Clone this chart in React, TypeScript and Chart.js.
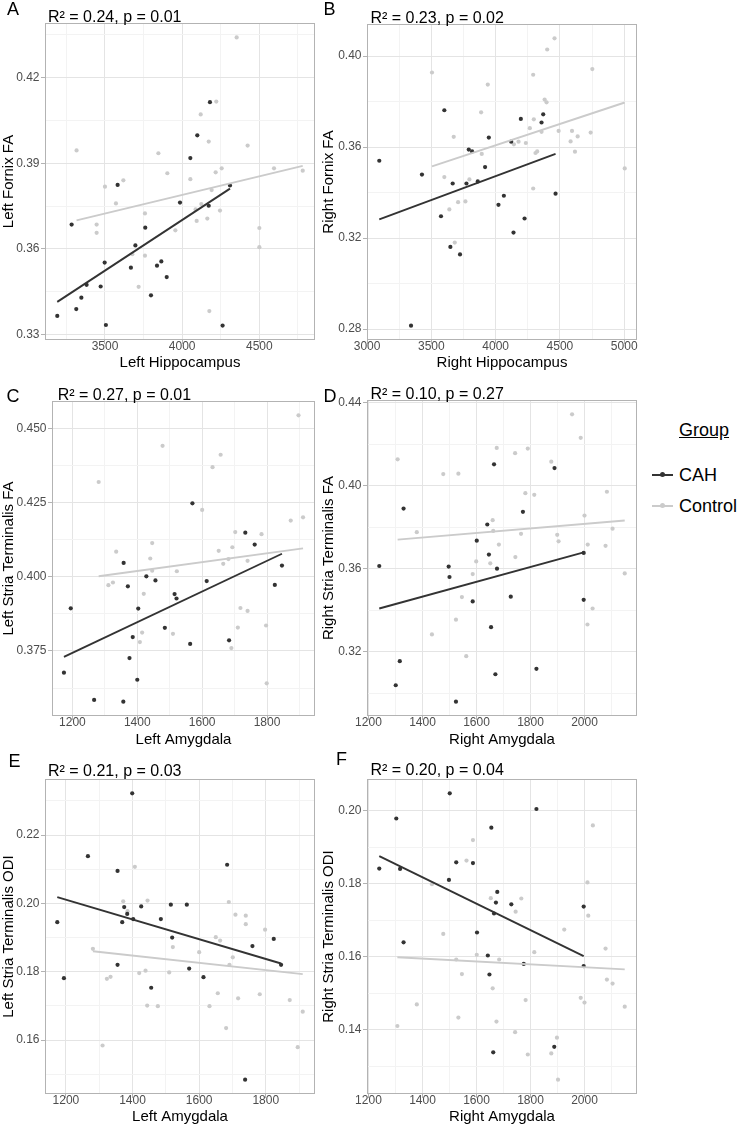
import React, { useEffect, useRef } from "react";
import { Chart, registerables } from "chart.js";
Chart.register(...registerables);

const FONT = '"Liberation Sans", Arial, Helvetica, sans-serif';
const CAH_COLOR = "#333333";
const CTRL_COLOR = "#cbcbcb";
const GRID_MAJOR = "#e4e4e4";
const GRID_MINOR = "#f3f3f3";
const BORDER = "#b3b3b3";
const TICK_TEXT = "#4d4d4d";

const groups = ["CAH", "Control"];

// ---------- Panel A: Left Hippocampus vs Left Fornix FA ----------
const aCahX = [3191, 3284, 3314, 3347, 3381, 3472, 3498, 3506, 3582, 3668, 3697, 3761, 3798, 3837, 3865, 3900, 3986, 4053, 4098, 4172, 4180, 4262, 4310];
const aCahY = [0.3365, 0.3685, 0.3389, 0.3429, 0.3474, 0.3468, 0.3552, 0.3333, 0.3824, 0.3534, 0.3612, 0.3674, 0.3437, 0.3541, 0.3556, 0.3501, 0.3762, 0.3918, 0.3998, 0.3751, 0.4114, 0.3331, 0.3822];
const aCtrlX = [3316, 3446, 3446, 3500, 3571, 3619, 3677, 3718, 3759, 3759, 3846, 3904, 3956, 4053, 4094, 4087, 4124, 4120, 4163, 4172, 4176, 4191, 4217, 4221, 4245, 4256, 4353, 4424, 4500, 4500, 4595, 4781];
const aCtrlY = [0.3945, 0.3685, 0.3656, 0.3818, 0.3759, 0.384, 0.3581, 0.3467, 0.3724, 0.3576, 0.3935, 0.3865, 0.3665, 0.3844, 0.3698, 0.3738, 0.3757, 0.4071, 0.3706, 0.3976, 0.3382, 0.3806, 0.3868, 0.4116, 0.3734, 0.3882, 0.4341, 0.3962, 0.3673, 0.3606, 0.3882, 0.3874];
const aFitCahX = [3191, 4310];
const aFitCahY = [0.3414, 0.3811];
const aFitCtrlX = [3316, 4781];
const aFitCtrlY = [0.37, 0.3891];
const aXMajor = [3500, 4000, 4500];
const aXMinor = [3250, 3750, 4250, 4750];
const aYMajor = [0.33, 0.36, 0.39, 0.42];
const aYMinor = [0.345, 0.375, 0.405, 0.435];

// ---------- Panel B: Right Hippocampus vs Right Fornix FA ----------
const bCahX = [3095, 3342, 3427, 3575, 3601, 3648, 3666, 3723, 3773, 3791, 3817, 3861, 3918, 3947, 4022, 4064, 4121, 4139, 4196, 4225, 4357, 4370, 4466];
const bCahY = [0.354, 0.2815, 0.3479, 0.3296, 0.3762, 0.3161, 0.344, 0.3128, 0.344, 0.3589, 0.3581, 0.3449, 0.3512, 0.3642, 0.3346, 0.3386, 0.3624, 0.3224, 0.3724, 0.3286, 0.3708, 0.3744, 0.3395];
const bCtrlX = [3505, 3601, 3640, 3674, 3682, 3708, 3765, 3796, 3887, 3892, 3939, 4142, 4178, 4235, 4266, 4292, 4297, 4292, 4310, 4323, 4357, 4381, 4396, 4401, 4458, 4490, 4583, 4594, 4617, 4638, 4739, 4752, 5004];
const bCtrlY = [0.3928, 0.3468, 0.3326, 0.3645, 0.318, 0.3358, 0.3361, 0.3458, 0.3753, 0.357, 0.3875, 0.3612, 0.3624, 0.3618, 0.3683, 0.3918, 0.3722, 0.3418, 0.3574, 0.3581, 0.3667, 0.3809, 0.3797, 0.4029, 0.4078, 0.3671, 0.3625, 0.3671, 0.358, 0.3647, 0.3664, 0.3943, 0.3506];
const bFitCahX = [3095, 4466];
const bFitCahY = [0.3282, 0.357];
const bFitCtrlX = [3505, 5004];
const bFitCtrlY = [0.3515, 0.3796];
const bXMajor = [3000, 3500, 4000, 4500, 5000];
const bXMinor = [3250, 3750, 4250, 4750];
const bYMajor = [0.28, 0.32, 0.36, 0.4];
const bYMinor = [0.3, 0.34, 0.38];

// ---------- Panel C: Left Amygdala vs Left Stria Terminalis FA ----------
const cCahX = [1174, 1195, 1267, 1357, 1358, 1371, 1376, 1386, 1400, 1403, 1428, 1456, 1485, 1515, 1521, 1563, 1570, 1614, 1683, 1733, 1762, 1824, 1846];
const cCahY = [0.3677, 0.3894, 0.3585, 0.3579, 0.4047, 0.3968, 0.3726, 0.3797, 0.3653, 0.3893, 0.4002, 0.3988, 0.3828, 0.3942, 0.3927, 0.3774, 0.4248, 0.3986, 0.3786, 0.4149, 0.4109, 0.3973, 0.4038];
const cCtrlX = [1281, 1311, 1325, 1335, 1408, 1415, 1420, 1440, 1446, 1446, 1478, 1510, 1522, 1600, 1632, 1651, 1657, 1665, 1681, 1690, 1693, 1702, 1710, 1718, 1740, 1740, 1783, 1797, 1799, 1873, 1897, 1911];
const cCtrlY = [0.432, 0.3972, 0.3981, 0.4085, 0.378, 0.3812, 0.3943, 0.4062, 0.4114, 0.4021, 0.4442, 0.3808, 0.4019, 0.4226, 0.437, 0.4088, 0.4412, 0.4044, 0.406, 0.376, 0.41, 0.4151, 0.3829, 0.3895, 0.3885, 0.4054, 0.4144, 0.3836, 0.3641, 0.419, 0.4545, 0.4201];
const cFitCahX = [1174, 1846];
const cFitCahY = [0.373, 0.4078];
const cFitCtrlX = [1281, 1911];
const cFitCtrlY = [0.4002, 0.4096];
const cXMajor = [1200, 1400, 1600, 1800];
const cXMinor = [1300, 1500, 1700, 1900];
const cYMajor = [0.375, 0.4, 0.425, 0.45];
const cYMinor = [0.3625, 0.3875, 0.4125, 0.4375];

// ---------- Panel D: Right Amygdala vs Right Stria Terminalis FA ----------
const dCahX = [1240, 1301, 1316, 1330, 1497, 1500, 1524, 1586, 1601, 1640, 1646, 1654, 1665, 1670, 1676, 1727, 1772, 1822, 1889, 1997, 1997];
const dCahY = [0.3614, 0.3039, 0.3155, 0.3891, 0.3611, 0.3561, 0.296, 0.3443, 0.3736, 0.3814, 0.3669, 0.3319, 0.4104, 0.3092, 0.3601, 0.3466, 0.3875, 0.3118, 0.4086, 0.3677, 0.3451];
const dCtrlX = [1308, 1379, 1435, 1477, 1524, 1533, 1546, 1562, 1586, 1599, 1651, 1660, 1662, 1675, 1683, 1743, 1744, 1765, 1781, 1790, 1814, 1877, 1899, 1904, 1954, 1986, 2000, 2012, 2011, 2030, 2078, 2083, 2104, 2149];
const dCtrlY = [0.4128, 0.3777, 0.3284, 0.4057, 0.3355, 0.4059, 0.3464, 0.3179, 0.3575, 0.3636, 0.3627, 0.3835, 0.3783, 0.4183, 0.3717, 0.4158, 0.3657, 0.3769, 0.3965, 0.418, 0.3957, 0.4117, 0.3764, 0.3733, 0.4345, 0.4232, 0.3857, 0.3717, 0.3332, 0.3409, 0.3711, 0.3972, 0.3794, 0.3578];
const dFitCahX = [1240, 1997];
const dFitCahY = [0.3409, 0.368];
const dFitCtrlX = [1308, 2149];
const dFitCtrlY = [0.3741, 0.3833];
const dXMajor = [1200, 1400, 1600, 1800, 2000];
const dXMinor = [1300, 1500, 1700, 1900, 2100];
const dYMajor = [0.32, 0.36, 0.4, 0.44];
const dYMinor = [0.3, 0.34, 0.38, 0.42];

// ---------- Panel E: Left Amygdala vs Left Stria Terminalis ODI ----------
const eCahX = [1174, 1194, 1266, 1355, 1355, 1369, 1375, 1384, 1399, 1402, 1426, 1456, 1485, 1515, 1519, 1563, 1570, 1613, 1684, 1738, 1760, 1824, 1846];
const eCahY = [0.1945, 0.1781, 0.2138, 0.2095, 0.182, 0.1945, 0.1989, 0.1969, 0.2322, 0.1954, 0.1991, 0.1753, 0.1954, 0.1996, 0.19, 0.1996, 0.1809, 0.1784, 0.2113, 0.1484, 0.1875, 0.1896, 0.182];
const eCtrlX = [1281, 1310, 1323, 1334, 1372, 1385, 1407, 1420, 1439, 1445, 1444, 1476, 1510, 1521, 1600, 1631, 1650, 1656, 1663, 1681, 1689, 1691, 1701, 1709, 1717, 1740, 1740, 1782, 1798, 1872, 1896, 1911];
const eCtrlY = [0.1867, 0.1584, 0.1779, 0.1785, 0.2006, 0.1977, 0.2107, 0.1796, 0.1803, 0.2008, 0.1701, 0.1699, 0.1798, 0.1872, 0.1857, 0.1699, 0.1901, 0.1737, 0.1891, 0.1635, 0.2004, 0.182, 0.1842, 0.1967, 0.1722, 0.1964, 0.1939, 0.1734, 0.1923, 0.1717, 0.1579, 0.1683];
const eFitCahX = [1174, 1846];
const eFitCahY = [0.2018, 0.1824];
const eFitCtrlX = [1281, 1911];
const eFitCtrlY = [0.186, 0.1793];
const eXMajor = [1200, 1400, 1600, 1800];
const eXMinor = [1300, 1500, 1700, 1900];
const eYMajor = [0.16, 0.18, 0.2, 0.22];
const eYMinor = [0.15, 0.17, 0.19, 0.21, 0.23];

// ---------- Panel F: Right Amygdala vs Right Stria Terminalis ODI ----------
const fCahX = [1240, 1303, 1317, 1330, 1498, 1501, 1525, 1587, 1602, 1642, 1648, 1655, 1662, 1665, 1672, 1677, 1729, 1775, 1822, 1888, 1997, 1997];
const fCahY = [0.1841, 0.1978, 0.184, 0.1639, 0.181, 0.2047, 0.1858, 0.1856, 0.1666, 0.1603, 0.1551, 0.1953, 0.1338, 0.1718, 0.1748, 0.1777, 0.1743, 0.158, 0.2004, 0.1353, 0.1737, 0.1574];
const fCtrlX = [1307, 1379, 1435, 1477, 1525, 1533, 1546, 1563, 1587, 1601, 1653, 1660, 1674, 1684, 1743, 1745, 1766, 1782, 1790, 1814, 1877, 1898, 1902, 1925, 1986, 2000, 2011, 2014, 2031, 2078, 2083, 2104, 2149];
const fCtrlY = [0.141, 0.1469, 0.1798, 0.1662, 0.1592, 0.1433, 0.1552, 0.1863, 0.1919, 0.1605, 0.176, 0.1513, 0.1422, 0.1592, 0.1393, 0.1723, 0.1759, 0.1481, 0.1332, 0.1612, 0.1335, 0.1378, 0.1263, 0.1674, 0.1487, 0.1474, 0.1803, 0.1712, 0.1959, 0.1622, 0.1537, 0.1526, 0.1463];
const fFitCahX = [1240, 1997];
const fFitCahY = [0.1875, 0.1601];
const fFitCtrlX = [1307, 2149];
const fFitCtrlY = [0.1598, 0.1565];
const fXMajor = [1200, 1400, 1600, 1800, 2000];
const fXMinor = [1300, 1500, 1700, 1900, 2100];
const fYMajor = [0.14, 0.16, 0.18, 0.2];
const fYMinor = [0.13, 0.15, 0.17, 0.19];

type Panel = {
  letter: string;
  stat: string;
  xTitle: string;
  yTitle: string;
  cahX: number[]; cahY: number[]; ctrlX: number[]; ctrlY: number[];
  fitCahX: number[]; fitCahY: number[]; fitCtrlX: number[]; fitCtrlY: number[];
  xMajor: number[]; xMinor: number[]; yMajor: number[]; yMinor: number[];
  yDec: number;
  // layout (page pixels)
  cx: number; cy: number; cw: number; ch: number;
  l: number; t: number; r: number; b: number;
  letterX: number; letterY: number; statX: number; statY: number;
};

const COL_L = { cx: 0, cw: 320 };
const COL_R = { cx: 320, cw: 325 };

const panels: Panel[] = [
  {
    letter: "A", stat: "R\u00B2 = 0.24, p = 0.01", xTitle: "Left Hippocampus", yTitle: "Left Fornix FA",
    cahX: aCahX, cahY: aCahY, ctrlX: aCtrlX, ctrlY: aCtrlY,
    fitCahX: aFitCahX, fitCahY: aFitCahY, fitCtrlX: aFitCtrlX, fitCtrlY: aFitCtrlY,
    xMajor: aXMajor, xMinor: aXMinor, yMajor: aYMajor, yMinor: aYMinor, yDec: 2,
    ...COL_L, cy: 0, ch: 373, l: 45, t: 23, r: 315, b: 340,
    letterX: 7, letterY: 15, statX: 48, statY: 22,
  },
  {
    letter: "B", stat: "R\u00B2 = 0.23, p = 0.02", xTitle: "Right Hippocampus", yTitle: "Right Fornix FA",
    cahX: bCahX, cahY: bCahY, ctrlX: bCtrlX, ctrlY: bCtrlY,
    fitCahX: bFitCahX, fitCahY: bFitCahY, fitCtrlX: bFitCtrlX, fitCtrlY: bFitCtrlY,
    xMajor: bXMajor, xMinor: bXMinor, yMajor: bYMajor, yMinor: bYMinor, yDec: 2,
    ...COL_R, cy: 0, ch: 373, l: 367, t: 24, r: 637, b: 340,
    letterX: 3.6, letterY: 15, statX: 50.4, statY: 22.5,
  },
  {
    letter: "C", stat: "R\u00B2 = 0.27, p = 0.01", xTitle: "Left Amygdala", yTitle: "Left Stria Terminalis FA",
    cahX: cCahX, cahY: cCahY, ctrlX: cCtrlX, ctrlY: cCtrlY,
    fitCahX: cFitCahX, fitCahY: cFitCahY, fitCtrlX: cFitCtrlX, fitCtrlY: cFitCtrlY,
    xMajor: cXMajor, xMinor: cXMinor, yMajor: cYMajor, yMinor: cYMinor, yDec: 3,
    ...COL_L, cy: 373, ch: 377, l: 52, t: 401, r: 315, b: 716,
    letterX: 6.5, letterY: 29, statX: 57.7, statY: 27,
  },
  {
    letter: "D", stat: "R\u00B2 = 0.10, p = 0.27", xTitle: "Right Amygdala", yTitle: "Right Stria Terminalis FA",
    cahX: dCahX, cahY: dCahY, ctrlX: dCtrlX, ctrlY: dCtrlY,
    fitCahX: dFitCahX, fitCahY: dFitCahY, fitCtrlX: dFitCtrlX, fitCtrlY: dFitCtrlY,
    xMajor: dXMajor, xMinor: dXMinor, yMajor: dYMajor, yMinor: dYMinor, yDec: 2,
    ...COL_R, cy: 373, ch: 377, l: 367, t: 400, r: 637, b: 716,
    letterX: 3.6, letterY: 29.3, statX: 50.4, statY: 26.3,
  },
  {
    letter: "E", stat: "R\u00B2 = 0.21, p = 0.03", xTitle: "Left Amygdala", yTitle: "Left Stria Terminalis ODI",
    cahX: eCahX, cahY: eCahY, ctrlX: eCtrlX, ctrlY: eCtrlY,
    fitCahX: eFitCahX, fitCahY: eFitCahY, fitCtrlX: eFitCtrlX, fitCtrlY: eFitCtrlY,
    xMajor: eXMajor, xMinor: eXMinor, yMajor: eYMajor, yMinor: eYMinor, yDec: 2,
    ...COL_L, cy: 750, ch: 377, l: 45, t: 779, r: 315, b: 1094,
    letterX: 8.6, letterY: 16.7, statX: 48, statY: 26,
  },
  {
    letter: "F", stat: "R\u00B2 = 0.20, p = 0.04", xTitle: "Right Amygdala", yTitle: "Right Stria Terminalis ODI",
    cahX: fCahX, cahY: fCahY, ctrlX: fCtrlX, ctrlY: fCtrlY,
    fitCahX: fFitCahX, fitCahY: fFitCahY, fitCtrlX: fFitCtrlX, fitCtrlY: fFitCtrlY,
    xMajor: fXMajor, xMinor: fXMinor, yMajor: fYMajor, yMinor: fYMinor, yDec: 2,
    ...COL_R, cy: 750, ch: 377, l: 367, t: 779, r: 637, b: 1094,
    letterX: 15.9, letterY: 15, statX: 50.4, statY: 25,
  },
];

const expand = (vals: number[]) => {
  const lo = Math.min(...vals);
  const hi = Math.max(...vals);
  const pad = (hi - lo) * 0.05;
  return [lo - pad, hi + pad];
};
const isIn = (v: number, arr: number[]) => arr.some((m) => Math.abs(m - v) < 1e-7);
const toPts = (xs: number[], ys: number[]) => xs.map((x, i) => ({ x, y: ys[i] }));

const decorPlugin = {
  id: "panelDecor",
  beforeDatasetsDraw(chart: any, _args: any, opts: any) {
    const { ctx, chartArea: a } = chart;
    ctx.save();
    ctx.strokeStyle = BORDER;
    ctx.lineWidth = 1;
    ctx.strokeRect(a.left + 0.5, a.top + 0.5, a.right - a.left - 1, a.bottom - a.top - 1);
    ctx.restore();
  },
  afterDraw(chart: any, _args: any, opts: any) {
    const { ctx } = chart;
    ctx.save();
    ctx.fillStyle = "#000";
    ctx.textAlign = "left";
    ctx.textBaseline = "alphabetic";
    ctx.font = `18px ${FONT}`;
    ctx.fillText(opts.letter, opts.letterX, opts.letterY);
    ctx.font = `16px ${FONT}`;
    ctx.fillText(opts.stat, opts.statX, opts.statY);
    ctx.restore();
  },
};

function PanelChart({ p }: { p: Panel }) {
  const ref = useRef<HTMLCanvasElement | null>(null);
  useEffect(() => {
    if (!ref.current) return;
    const xr = expand([...p.cahX, ...p.ctrlX, ...p.fitCahX, ...p.fitCtrlX]);
    const yr = expand([...p.cahY, ...p.ctrlY, ...p.fitCahY, ...p.fitCtrlY]);
    const xTicks = [...p.xMajor, ...p.xMinor].filter((v) => v >= xr[0] && v <= xr[1]).sort((a, b) => a - b);
    const yTicks = [...p.yMajor, ...p.yMinor].filter((v) => v >= yr[0] && v <= yr[1]).sort((a, b) => a - b);
    const yW = p.l - p.cx;
    const xH = p.cy + p.ch - p.b;
    const chart = new Chart(ref.current, {
      type: "scatter",
      data: {
        datasets: [
          {
            label: groups[0] + " fit", data: toPts(p.fitCahX, p.fitCahY), showLine: true,
            borderColor: CAH_COLOR, borderWidth: 1.9, pointRadius: 0, order: 0,
          },
          {
            label: groups[1] + " fit", data: toPts(p.fitCtrlX, p.fitCtrlY), showLine: true,
            borderColor: CTRL_COLOR, borderWidth: 1.9, pointRadius: 0, order: 0,
          },
          {
            label: groups[0], data: toPts(p.cahX, p.cahY), backgroundColor: CAH_COLOR,
            borderWidth: 0, pointRadius: 2.1, order: 1,
          },
          {
            label: groups[1], data: toPts(p.ctrlX, p.ctrlY), backgroundColor: CTRL_COLOR,
            borderWidth: 0, pointRadius: 2.1, order: 2,
          },
        ] as any,
      },
      options: {
        animation: false,
        responsive: false,
        maintainAspectRatio: false,
        devicePixelRatio: 1,
        events: [],
        layout: { padding: { left: 0, top: p.t - p.cy, right: p.cx + p.cw - p.r, bottom: 0 } },
        plugins: {
          legend: { display: false },
          tooltip: { enabled: false },
          panelDecor: {
            letter: p.letter, letterX: p.letterX, letterY: p.letterY,
            stat: p.stat, statX: p.statX, statY: p.statY,
          },
        } as any,
        scales: {
          x: {
            type: "linear",
            min: xr[0],
            max: xr[1],
            afterBuildTicks: (s: any) => { s.ticks = xTicks.map((v) => ({ value: v })); },
            afterFit: (s: any) => { s.height = xH; },
            border: { display: false },
            grid: {
              color: (c: any) => (c.tick && isIn(c.tick.value, p.xMajor) ? GRID_MAJOR : GRID_MINOR),
              tickColor: (c: any) => (c.tick && isIn(c.tick.value, p.xMajor) ? BORDER : "rgba(0,0,0,0)"),
              lineWidth: 1,
              tickLength: 4,
              drawTicks: true,
            },
            ticks: {
              autoSkip: false,
              maxRotation: 0,
              minRotation: 0,
              padding: -3,
              color: TICK_TEXT,
              font: { family: FONT, size: 12, lineHeight: 1 },
              callback: (v: any) => (isIn(Number(v), p.xMajor) ? String(v) : ""),
            },
            title: {
              display: true,
              text: p.xTitle,
              color: "#000",
              font: { family: FONT, size: 15, lineHeight: 1.2 },
              padding: { top: 0, bottom: 1 },
            },
          },
          y: {
            type: "linear",
            min: yr[0],
            max: yr[1],
            afterBuildTicks: (s: any) => { s.ticks = yTicks.map((v) => ({ value: v })); },
            afterFit: (s: any) => { s.width = yW; },
            border: { display: false },
            grid: {
              color: (c: any) => (c.tick && isIn(c.tick.value, p.yMajor) ? GRID_MAJOR : GRID_MINOR),
              tickColor: (c: any) => (c.tick && isIn(c.tick.value, p.yMajor) ? BORDER : "rgba(0,0,0,0)"),
              lineWidth: 1,
              tickLength: 4,
              drawTicks: true,
            },
            ticks: {
              autoSkip: false,
              padding: 1.5,
              color: TICK_TEXT,
              font: { family: FONT, size: 12, lineHeight: 1.2 },
              callback: (v: any) => (isIn(Number(v), p.yMajor) ? Number(v).toFixed(p.yDec) : ""),
            },
            title: {
              display: true,
              text: p.yTitle,
              color: "#000",
              font: { family: FONT, size: 15, lineHeight: 1.2 },
              padding: { top: 0, bottom: 0 },
            },
          },
        },
      } as any,
      plugins: [decorPlugin],
    });
    return () => chart.destroy();
  }, [p]);
  return (
    <canvas
      ref={ref}
      width={p.cw}
      height={p.ch}
      style={{ position: "absolute", left: p.cx, top: p.cy, width: p.cw, height: p.ch }}
    />
  );
}

function LegendKey({ color, top }: { color: string; top: number }) {
  return (
    <>
      <div style={{ position: "absolute", left: 652, top: top - 1, width: 21, height: 2, background: color }} />
      <div style={{ position: "absolute", left: 659.5, top: top - 2.5, width: 5, height: 5, borderRadius: "50%", background: color }} />
    </>
  );
}

export default function App() {
  return (
    <div style={{ position: "absolute", left: 0, top: 0, width: 740, height: 1127, background: "#fff", overflow: "hidden" }}>
      {panels.map((p) => (
        <PanelChart key={p.letter} p={p} />
      ))}
      <div style={{ position: "absolute", left: 679, top: 420.8, font: `18px ${FONT}`, lineHeight: "18px", textDecoration: "underline", color: "#000", whiteSpace: "nowrap" }}>
        Group
      </div>
      <LegendKey color={CAH_COLOR} top={474.5} />
      <div style={{ position: "absolute", left: 679, top: 465.8, font: `18px ${FONT}`, lineHeight: "18px", color: "#000", whiteSpace: "nowrap" }}>
        {groups[0]}
      </div>
      <LegendKey color={CTRL_COLOR} top={505.5} />
      <div style={{ position: "absolute", left: 679, top: 496.8, font: `18px ${FONT}`, lineHeight: "18px", color: "#000", whiteSpace: "nowrap" }}>
        {groups[1]}
      </div>
    </div>
  );
}
